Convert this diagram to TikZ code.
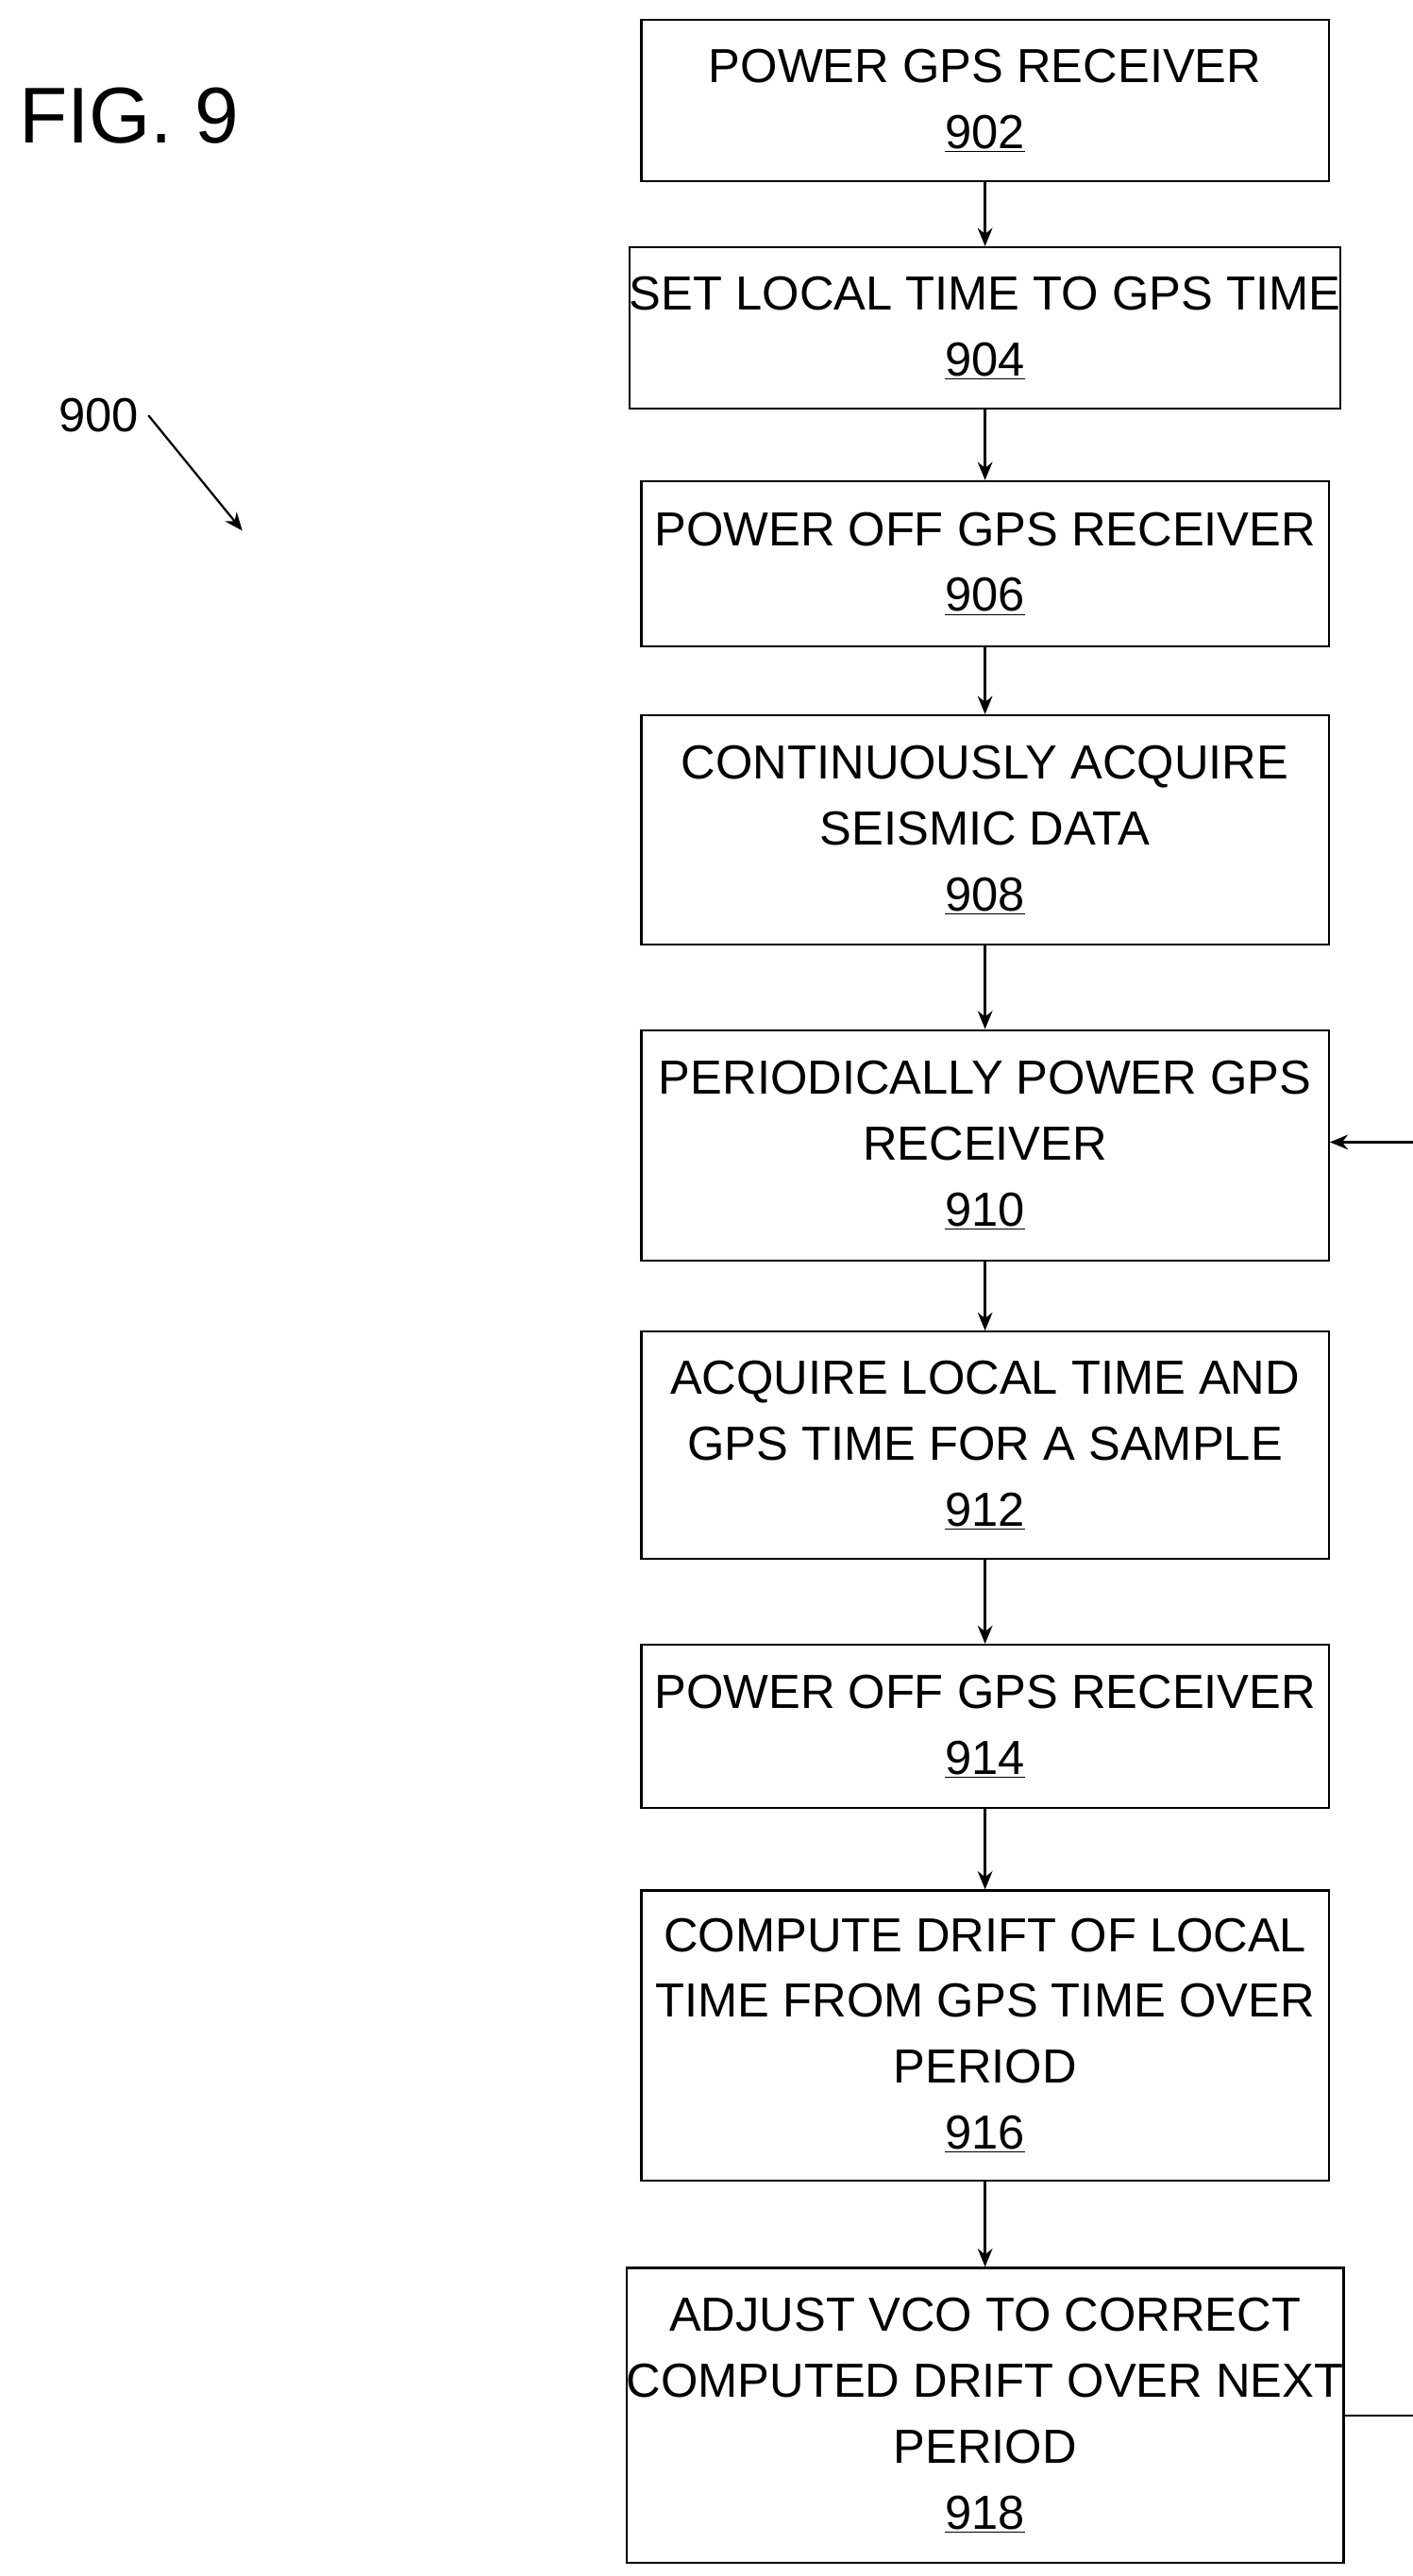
\documentclass[tikz,border=0pt]{standalone}
\usepackage{fontspec}
\setmainfont{Liberation Sans}
\usetikzlibrary{arrows.meta}
\begin{document}
\begin{tikzpicture}[x=1pt,y=-1pt,
 box/.style={draw,line width=1.3pt,minimum width=417pt,align=center,inner sep=0pt,font=\fontsize{29}{40}\selectfont},
 arr/.style={line width=1.3pt,-{Stealth[length=11pt,width=9pt]}}]
\useasboundingbox (0,0) rectangle (857,1563);
\node[anchor=west,font=\fontsize{48}{50}\selectfont] (fig) at (8,70) {FIG. 9};
\node[font=\fontsize{29}{30}\selectfont] (lbl) at (60,252) {900};
\coordinate (la) at (90,252);
\coordinate (lb) at (147,322);
\draw[arr] (la) -- (lb);
\newcommand{\bx}[5]{\node[box,minimum height=#3-#2] (#1) at (597.5,{(#2+#3)/2}) {#4\\\underline{#5}};}
\bx{b902}{12}{110}{POWER GPS RECEIVER}{902}
\bx{b904}{150}{248}{SET LOCAL TIME TO GPS TIME}{904}
\bx{b906}{292}{392}{POWER OFF GPS RECEIVER}{906}
\bx{b908}{434}{573}{CONTINUOUSLY ACQUIRE\\SEISMIC DATA}{908}
\bx{b910}{625}{765}{PERIODICALLY POWER GPS\\RECEIVER}{910}
\bx{b912}{808}{946}{ACQUIRE LOCAL TIME AND\\GPS TIME FOR A SAMPLE}{912}
\bx{b914}{998}{1097}{POWER OFF GPS RECEIVER}{914}
\bx{b916}{1147}{1323}{COMPUTE DRIFT OF LOCAL\\TIME FROM GPS TIME OVER\\PERIOD}{916}
\bx{b918}{1376}{1555}{ADJUST VCO TO CORRECT\\COMPUTED DRIFT OVER NEXT\\PERIOD}{918}
\foreach \a/\b in {b902/b904,b904/b906,b906/b908,b908/b910,b910/b912,b912/b914,b914/b916,b916/b918}
 \draw[arr] (\a) -- (\b);
\draw[arr] (b918.east) -- ++(42,0) |- (b910.east|-0,693);
\end{tikzpicture}
\end{document}
